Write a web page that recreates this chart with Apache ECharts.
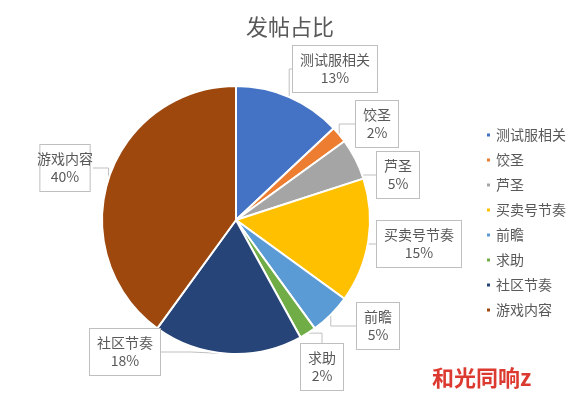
<!DOCTYPE html>
<html><head><meta charset="utf-8">
<script src="https://cdn.jsdelivr.net/npm/echarts@6/dist/echarts.min.js"></script>
<style>html,body{margin:0;padding:0;background:#fff}#c{width:580px;height:393px}</style>
</head><body><div id="c"></div>
<script>
const categories = ['测试服相关','饺圣','芦圣','买卖号节奏','前瞻','求助','社区节奏','游戏内容'];
const values = [13, 2, 5, 15, 5, 2, 18, 40];
const colors = ['#4472C4','#ED7D31','#A5A5A5','#FFC000','#5B9BD5','#70AD47','#264478','#9E480E'];
const titleText = '发帖占比';
const watermark = '和光同响z';
// label box centres (layout only)
const labelPos = [[335,69],[377,124],[398,175],[419,244],[378,326],[322,367],[125,352],[65,168]];

const chart = echarts.init(document.getElementById('c'), null, {renderer:'canvas'});
const font = '"Noto Sans CJK SC","Noto Sans",sans-serif';
chart.setOption({
  animation:false,
  color: colors,
  title:{text:titleText,left:'center',top:11,textStyle:{fontSize:22,fontWeight:'normal',color:'#595959',fontFamily:font}},
  legend:{orient:'vertical',left:480,top:123,icon:'rect',itemWidth:5,itemHeight:5,itemGap:11,
    textStyle:{fontSize:14,color:'#595959',fontFamily:font},data:categories},
  graphic:[{type:'text',left:432,top:367,style:{text:watermark,fontSize:22,fontWeight:'bold',fill:'#dc3a30',fontFamily:font}}],
  series:[{
    type:'pie',center:[236,220],radius:134,startAngle:90,clockwise:true,
    itemStyle:{borderColor:'#fff',borderWidth:2},
    label:{show:true,formatter:'{b}\n{d}%',fontSize:14,lineHeight:18,color:'#595959',fontFamily:font,overflow:'none',
      backgroundColor:'#fff',borderColor:'#bfbfbf',borderWidth:1,padding:[5,7,5,7],align:'center'},
    labelLine:{show:true,lineStyle:{color:'#bfbfbf',width:1}},
    labelLayout:function(p){const q=labelPos[p.dataIndex];return {x:q[0],y:q[1],align:'center',verticalAlign:'middle'};},
    data:categories.map((c,i)=>({name:c,value:values[i]}))
  }]
});
</script></body></html>
